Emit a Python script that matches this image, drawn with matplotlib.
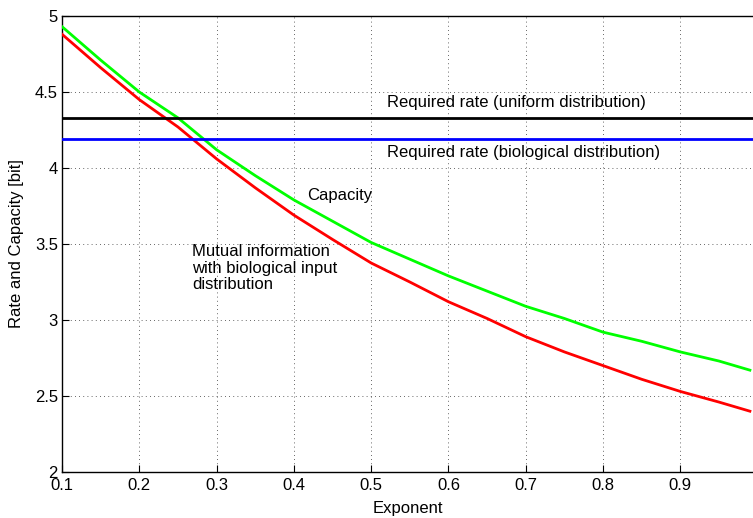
import matplotlib
matplotlib.use("Agg")
import matplotlib.pyplot as plt

# ---- data ---------------------------------------------------------------
EXPONENT = [0.10, 0.15, 0.20, 0.25, 0.30, 0.35, 0.40, 0.45, 0.50, 0.55,
            0.60, 0.65, 0.70, 0.75, 0.80, 0.85, 0.90, 0.95, 0.99]
CAPACITY = [4.93, 4.71, 4.50, 4.33, 4.12, 3.95, 3.79, 3.65, 3.51, 3.40,
            3.29, 3.19, 3.09, 3.01, 2.92, 2.86, 2.79, 2.73, 2.67]
MUTUAL   = [4.88, 4.66, 4.45, 4.27, 4.06, 3.87, 3.69, 3.53, 3.375, 3.25,
            3.12, 3.01, 2.89, 2.79, 2.70, 2.61, 2.53, 2.46, 2.40]
RATE_UNIFORM = 4.327
RATE_BIO     = 4.19

FONT = "Liberation Sans"
FS = 12

fig = plt.figure(figsize=(7.53, 5.18), dpi=100)
ax = fig.add_axes([62 / 753, 46 / 518, 1 - 62 / 753, (472 - 16) / 518])

ax.plot(EXPONENT, CAPACITY, color=(0, 1, 0), lw=2.0, zorder=3)
ax.plot(EXPONENT, MUTUAL, color=(1, 0, 0), lw=2.0, zorder=3)
ax.axhline(RATE_UNIFORM, color="black", lw=2.0, zorder=3)
ax.axhline(RATE_BIO, color=(0, 0, 1), lw=2.0, zorder=3)

txt = dict(fontsize=FS, family=FONT, color="black")
ax.text(0.520, 4.434, "Required rate (uniform distribution)", va="center", **txt)
ax.text(0.520, 4.099, "Required rate (biological distribution)", va="center", **txt)
ax.text(0.417, 3.816, "Capacity", va="center", **txt)
ax.text(0.268, 3.342, "Mutual information\nwith biological input\ndistribution",
        va="center", linespacing=1.1, **txt)

ax.set_xlim(0.1, 0.994)
ax.set_ylim(2, 5)
ax.set_xticks([0.1, 0.2, 0.3, 0.4, 0.5, 0.6, 0.7, 0.8, 0.9])
ax.set_xticklabels(["0.1", "0.2", "0.3", "0.4", "0.5", "0.6", "0.7", "0.8", "0.9"])
ax.set_yticks([2, 2.5, 3, 3.5, 4, 4.5, 5])
ax.set_yticklabels(["2", "2.5", "3", "3.5", "4", "4.5", "5"])
ax.tick_params(direction="in", length=5, width=0.8, labelsize=FS,
               top=False, right=False)
ax.tick_params(axis="x", pad=4)
ax.tick_params(axis="y", pad=3)
for lab in ax.get_xticklabels() + ax.get_yticklabels():
    lab.set_family(FONT)
ax.grid(True, color="black", ls=(0, (1, 4)), lw=0.6, alpha=0.8)
ax.spines["right"].set_visible(False)
for s in ("left", "bottom", "top"):
    ax.spines[s].set_linewidth(1.0)

ax.set_xlabel("Exponent", fontsize=FS, family=FONT, labelpad=6)
ax.set_ylabel("Rate and Capacity [bit]", fontsize=FS, family=FONT, labelpad=8)

fig.savefig("out.png", dpi=100)
